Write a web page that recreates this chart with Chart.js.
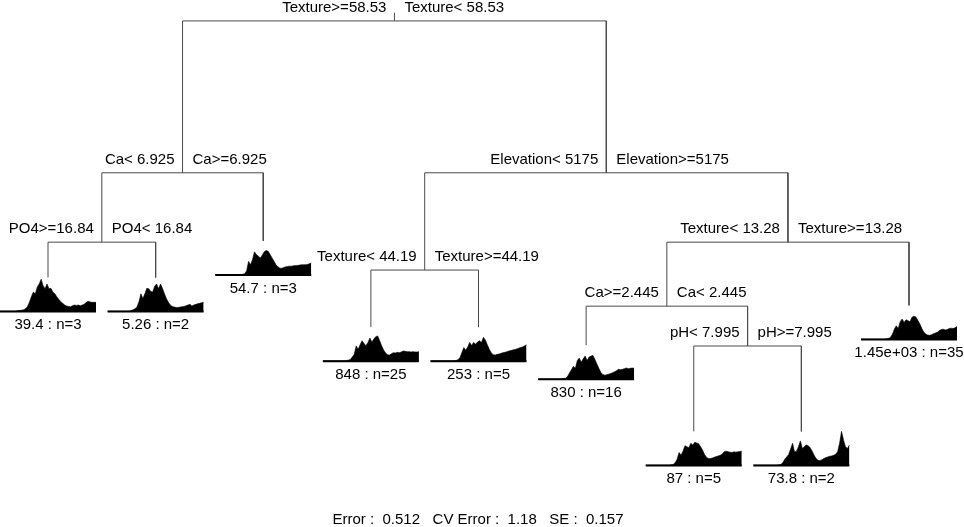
<!DOCTYPE html>
<html>
<head>
<meta charset="utf-8">
<script src="https://cdn.jsdelivr.net/npm/chart.js@4.4.0/dist/chart.umd.min.js"></script>
<style>
  html, body { margin: 0; padding: 0; background: #fff; overflow: hidden; }
  #tree { display: block; }
</style>
</head>
<body>
<canvas id="tree" width="964" height="527" style="width:964px;height:527px"></canvas>
<script>
// split rules (left branch text, right branch text), node heights and children
const splitLeftText = ['Texture>=58.53', 'Ca< 6.925', 'Elevation< 5175', 'PO4>=16.84', 'Texture< 44.19', 'Texture< 13.28', 'Ca>=2.445', 'pH< 7.995'];
const splitRightText = ['Texture< 58.53', 'Ca>=6.925', 'Elevation>=5175', 'PO4< 16.84', 'Texture>=44.19', 'Texture>=13.28', 'Ca< 2.445', 'pH>=7.995'];
const splitHeights = [100, 63, 63, 46.1, 39.3, 46.1, 30.5, 20.8];
const splitChildren = [['s1', 's2'], ['s3', 'l2'], ['s4', 's5'], ['l0', 'l1'], ['l3', 'l4'], ['s6', 'l8'], ['l5', 's7'], ['l6', 'l7']];

// leaves
const leafMeans = ['39.4', '5.26', '54.7', '848', '253', '830', '87', '73.8', '1.45e+03'];
const leafCounts = [3, 2, 3, 25, 5, 16, 5, 2, 35];
const leafHeights = [37.5, 37.5, 46.4, 25.4, 25.4, 21.0, 0, 0, 30.7];

// species profiles of each leaf (percent of the leaf box height)
const profile_39_4 = [1, 1, 1, 1, 1, 1, 1, 1, 1, 3, 3, 4, 5, 8, 14, 27, 43, 57, 52, 71, 81, 95, 76, 67, 81, 67, 68, 57, 52, 43, 36, 29, 24, 19, 16, 15, 14, 17, 19, 18, 19, 17, 19, 21, 27, 30, 28, 27, 27, 27];
const profile_5_26 = [1, 1, 1, 1, 1, 1, 1, 1, 1, 1, 1, 1, 3, 5, 8, 14, 29, 52, 38, 52, 68, 67, 59, 57, 74, 81, 67, 81, 68, 52, 38, 27, 19, 15, 13, 12, 12, 13, 14, 15, 17, 19, 21, 16, 19, 21, 23, 24, 26, 27];
const profile_54_7 = [1, 1, 1, 1, 1, 1, 1, 1, 1, 1, 1, 1, 1, 1, 2, 4, 12, 40, 30, 45, 68, 60, 55, 50, 58, 68, 72, 70, 60, 50, 40, 30, 24, 20, 20, 22, 24, 25, 26, 26, 27, 28, 28, 29, 30, 30, 30, 31, 33, 35];
const profile_848 = [1, 1, 1, 1, 1, 1, 1, 1, 1, 1, 1, 1, 2, 3, 5, 12, 20, 45, 35, 48, 60, 52, 45, 55, 68, 56, 65, 72, 74, 60, 45, 33, 24, 19, 18, 22, 25, 24, 26, 25, 27, 30, 29, 28, 28, 27, 28, 27, 27, 28];
const profile_253 = [1, 1, 1, 1, 1, 1, 1, 1, 1, 1, 1, 1, 1, 2, 4, 10, 25, 40, 32, 42, 55, 46, 55, 50, 56, 60, 55, 70, 62, 48, 35, 25, 19, 18, 20, 21, 23, 25, 26, 28, 30, 31, 33, 34, 36, 38, 40, 42, 45, 48];
const profile_830 = [1, 1, 1, 1, 1, 1, 1, 1, 1, 1, 1, 1, 1, 2, 3, 8, 18, 28, 38, 32, 55, 62, 50, 60, 68, 55, 65, 68, 70, 58, 45, 32, 20, 14, 12, 13, 15, 17, 19, 22, 25, 29, 28, 29, 31, 33, 31, 32, 33, 32];
const profile_87 = [1, 1, 1, 1, 1, 1, 1, 1, 1, 1, 1, 1, 1, 2, 3, 8, 18, 38, 30, 42, 58, 55, 52, 65, 60, 68, 66, 64, 55, 45, 32, 24, 20, 20, 22, 24, 26, 28, 30, 33, 40, 42, 40, 39, 38, 40, 39, 40, 41, 42];
const profile_73_8 = [1, 1, 1, 1, 1, 1, 1, 1, 1, 1, 1, 1, 1, 2, 3, 8, 18, 25, 32, 48, 65, 40, 42, 55, 72, 50, 55, 60, 58, 52, 42, 30, 20, 15, 14, 17, 20, 23, 25, 27, 28, 30, 33, 40, 65, 100, 75, 55, 50, 60];
const profile_1450 = [1, 1, 1, 1, 1, 1, 1, 1, 1, 1, 1, 1, 1, 2, 3, 6, 15, 30, 40, 32, 52, 60, 50, 58, 55, 52, 65, 68, 66, 56, 46, 33, 22, 16, 13, 12, 14, 17, 19, 21, 26, 29, 30, 28, 29, 32, 33, 32, 34, 38];
const leafProfiles = [profile_39_4, profile_5_26, profile_54_7, profile_848, profile_253, profile_830, profile_87, profile_73_8, profile_1450];

const errorStats = ['0.512', '1.18', '0.157'];

// layout in data units (x: leaf index, y: node height)
const BOX = 8.3;      // profile box height
const HALF = 0.446;   // half width of a profile box

function nodeX(ref) {
  const i = +ref.slice(1);
  if (ref[0] === 'l') return i;
  const [a, b] = splitChildren[i];
  return (nodeX(a) + nodeX(b)) / 2;
}
function nodeY(ref) {
  const i = +ref.slice(1);
  return ref[0] === 'l' ? leafHeights[i] : splitHeights[i];
}

const datasets = [];
const branchColor = '#4a4a4a';

// branches
splitChildren.forEach(([a, b], i) => {
  const h = splitHeights[i];
  datasets.push({
    data: [
      { x: nodeX(a), y: nodeY(a) },
      { x: nodeX(a), y: h },
      { x: nodeX(b), y: h },
      { x: nodeX(b), y: nodeY(b) }
    ],
    borderColor: branchColor, borderWidth: 1, pointRadius: 0, fill: false
  });
});
// stub above the root
datasets.push({
  data: [{ x: nodeX('s0'), y: splitHeights[0] }, { x: nodeX('s0'), y: splitHeights[0] + 2 }],
  borderColor: branchColor, borderWidth: 1, pointRadius: 0, fill: false
});

// leaf profiles
leafProfiles.forEach((prof, j) => {
  const base = leafHeights[j] - BOX;
  const n = prof.length;
  datasets.push({
    data: prof.map((v, k) => ({ x: j - HALF + k * (2 * HALF / (n - 1)), y: base + v / 100 * BOX })),
    borderColor: '#000', backgroundColor: '#000', borderWidth: 0.6, pointRadius: 0,
    fill: { value: base }
  });
  datasets.push({
    data: [{ x: j - HALF, y: base }, { x: j + HALF, y: base }],
    borderColor: '#000', borderWidth: 2, pointRadius: 0, fill: false
  });
});

const FONT = '15px "Liberation Sans", Arial, Helvetica, sans-serif';

const labelPlugin = {
  id: 'treeLabels',
  afterDatasetsDraw(chart) {
    const { ctx } = chart;
    const xs = chart.scales.x, ys = chart.scales.y;
    ctx.save();
    ctx.font = FONT;
    ctx.fillStyle = '#000';
    ctx.textBaseline = 'middle';
    splitChildren.forEach((c, i) => {
      const px = xs.getPixelForValue(nodeX('s' + i));
      const py = ys.getPixelForValue(splitHeights[i]);
      ctx.textAlign = 'right';
      ctx.fillText(splitLeftText[i], px - 8, py - 13);
      ctx.textAlign = 'left';
      ctx.fillText(splitRightText[i], px + 10, py - 13);
    });
    ctx.textAlign = 'center';
    leafMeans.forEach((m, j) => {
      const px = xs.getPixelForValue(j);
      const py = ys.getPixelForValue(leafHeights[j] - BOX);
      ctx.fillText(m + ' : n=' + leafCounts[j], px, py + 13.5);
    });
    ctx.fillText('Error :  ' + errorStats[0] + '   CV Error :  ' + errorStats[1] + '   SE :  ' + errorStats[2],
      chart.width / 2 - 4, chart.height - 7);
    ctx.restore();
  }
};

new Chart(document.getElementById('tree'), {
  type: 'line',
  data: { datasets },
  options: {
    responsive: false,
    animation: false,
    devicePixelRatio: 1,
    layout: { padding: 0 },
    elements: { line: { tension: 0 } },
    plugins: { legend: { display: false }, tooltip: { enabled: false } },
    scales: {
      x: { type: 'linear', min: -0.446, max: 8.511, display: false },
      y: { type: 'linear', min: -23.3, max: 105.1, display: false }
    }
  },
  plugins: [labelPlugin]
});
</script>
</body>
</html>
